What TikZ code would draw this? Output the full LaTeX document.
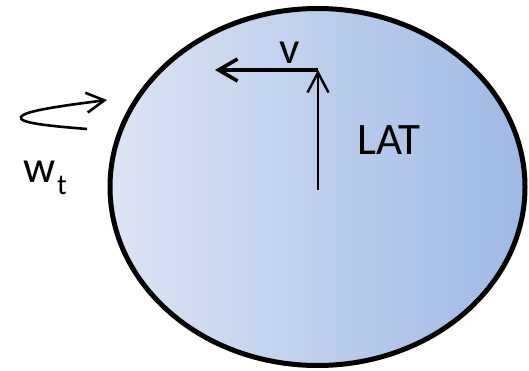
\documentclass[tikz,border=0pt]{standalone}
\usepackage{fontspec}
\setmainfont{Carlito}
\usetikzlibrary{arrows.meta}
\definecolor{fillleft}{RGB}{221,228,244}
\definecolor{fillright}{RGB}{158,185,229}
\tikzset{
  body/.style={line width=5pt, draw=black, left color=fillleft, right color=fillright},
  vecthick/.style={line width=3.6pt, -{Straight Barb[length=19pt, width=22pt, line width=3.6pt]}},
  vecthin/.style={line width=2.4pt, -{Straight Barb[length=20pt, width=21pt, line width=2.4pt]}},
  spin/.style={line width=2.6pt, -{Straight Barb[length=18pt, width=20pt, line width=2.6pt]}},
  label/.style={inner sep=0pt, anchor=base, font=\fontsize{45}{50}\selectfont},
  sublabel/.style={inner sep=0pt, anchor=base, font=\fontsize{29}{34}\selectfont}
}
\begin{document}
\begin{tikzpicture}[x=1pt, y=-1pt]
  \useasboundingbox (0,0) rectangle (529,371);
  % rotating body
  \draw[body] (317.5,187) ellipse [x radius=207.5, y radius=178.5];
  % velocity and lateral axis
  \coordinate (top) at (318,70);
  \coordinate (vtip) at (215,70);
  \coordinate (latbase) at (318,190);
  \draw[vecthick] (top) -- (vtip);
  \draw[vecthin] (latbase) -- (top);
  \node[label] (v) at (290,64) {v};
  \node[label] (lat) at (389,155) {LAT};
  % angular rate
  \coordinate (spinstart) at (87,129);
  \coordinate (spinturn) at (21,117);
  \coordinate (spintip) at (107,100);
  \draw[spin] (spinstart) .. controls (50,126) and (18,123) .. (spinturn)
              .. controls (24,111) and (60,106) .. (spintip);
  \node[label] (w) at (40,183) {w};
  \node[sublabel] (wsub) at (62,195) {t};
\end{tikzpicture}
\end{document}
